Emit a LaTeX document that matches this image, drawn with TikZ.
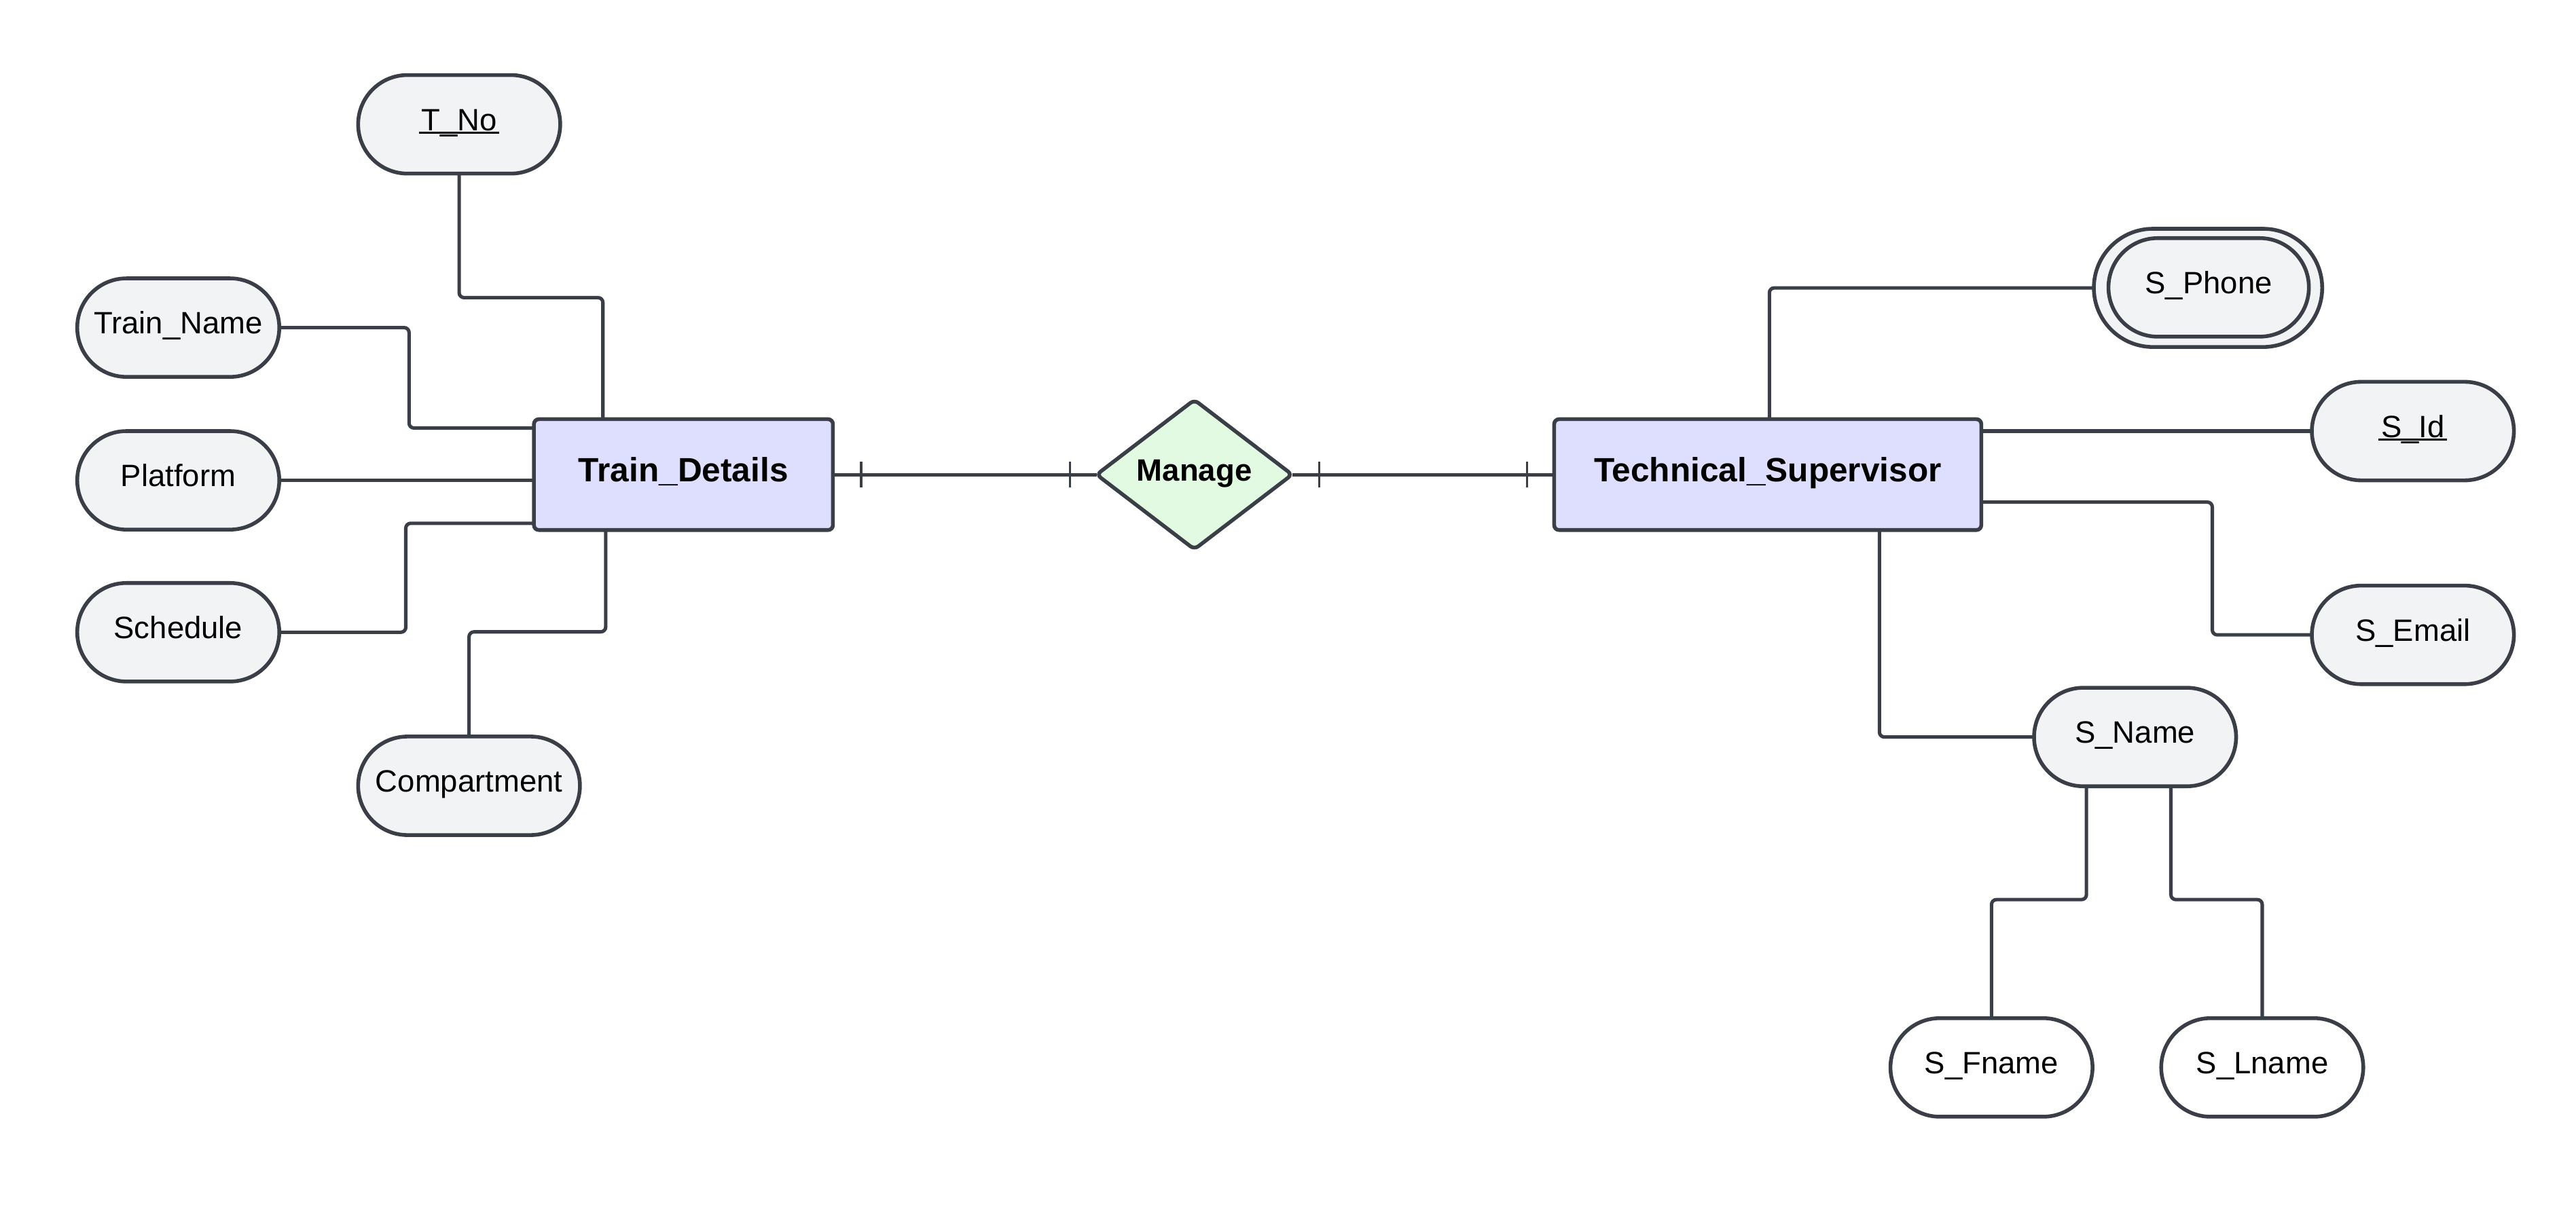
\documentclass[tikz,border=0pt]{standalone}
\usepackage{fontspec}
\setmainfont{Liberation Sans}
\usetikzlibrary{shapes.geometric,calc}
\definecolor{ln}{HTML}{3A3F47}
\definecolor{entfill}{HTML}{DEDEFF}
\definecolor{relfill}{HTML}{E2FAE2}
\definecolor{attrfill}{HTML}{F2F3F5}
\newcommand\keyul[1]{\setbox0\hbox{#1}\rlap{\kern-1.5pt\rule[-2.1pt]{\dimexpr\wd0+3pt\relax}{1.4pt}}\box0}
\tikzset{
  attr/.style={draw=ln, line width=2.3pt, fill=attrfill, rectangle, rounded corners=30pt,
    minimum width=123pt, minimum height=60pt, inner sep=0pt, outer sep=0pt,
    text height=13.5pt, text depth=6pt, font=\fontsize{18.8}{22}\selectfont},
  plainattr/.style={attr, fill=white},
  entity/.style={draw=ln, line width=2.3pt, fill=entfill, rectangle, rounded corners=3pt,
    inner sep=0pt, outer sep=0pt, text height=14.7pt, text depth=6pt,
    font=\bfseries\fontsize{20.5}{24}\selectfont},
  rel/.style={draw=ln, line width=2.3pt, fill=relfill, diamond, aspect=1.3, rounded corners=3pt,
    minimum width=119pt, minimum height=91pt, inner sep=0pt, outer sep=0pt,
    text height=13.5pt, text depth=6pt, font=\bfseries\fontsize{18.8}{22}\selectfont},
  conn/.style={draw=ln, line width=2.1pt, rounded corners=3pt},
  tickmark/.style={draw=ln, line width=1.6pt}
}
\begin{document}
\begin{tikzpicture}[x=1pt,y=-1pt]
\useasboundingbox (0,0) rectangle (1568,733.4);
% entities
\node[entity, minimum width=182pt, minimum height=67.5pt] (td) at (416,289) {Train\_Details};
\node[entity, minimum width=260pt, minimum height=67.5pt] (ts) at (1076,289) {Technical\_Supervisor};
\node[rel] (mg) at (727,289) {Manage};
% left attributes
\node[attr] (tno) at (279.5,75.7) {\keyul{T\_No}};
\node[attr] (tname) at (108.5,199.5) {Train\_Name};
\node[attr] (plat) at (108.5,292.5) {Platform};
\node[attr] (sched) at (108.5,385) {Schedule};
\node[attr, minimum width=135pt] (comp) at (285.5,478.5) {Compartment};
% right attributes
\node[attr, minimum width=139pt, minimum height=72pt, rounded corners=36pt] (phone) at (1344,175.3) {};
\node[attr, minimum width=122pt, minimum height=60pt] (phonein) at (1344.4,175) {S\_Phone};
\node[attr] (sid) at (1468.7,262.5) {\keyul{S\_Id}};
\node[attr] (semail) at (1468.7,386.6) {S\_Email};
\node[attr] (sname) at (1299.6,448.8) {S\_Name};
\node[plainattr] (fname) at (1212.2,650) {S\_Fname};
\node[plainattr] (lname) at (1377,650) {S\_Lname};
% left connectors
\draw[conn] (tno.south) |- ($(td.north west)+(42,-74)$) -- ($(td.north west)+(42,0)$);
\draw[conn] (tname.east) -| ($(td.north west)+(-76,5.4)$) -- ($(td.north west)+(0,5.4)$);
\draw[conn] (plat.east) -- (plat.east -| td.west);
\draw[conn] ($(td.south west)+(0,-4.1)$) -| ($(sched.east)+(77,0)$) -- (sched.east);
\draw[conn] ($(td.south west)+(43.7,0)$) -- ++(0,62) -| (comp.north);
% relationship
\draw[conn] (td.east) -- (mg.west);
\draw[conn] (mg.east) -- (ts.west);
\draw[tickmark] ($(td.east)+(17,-7.7)$) -- ++(0,15.4);
\draw[tickmark] ($(mg.west)+(-16.2,-7.7)$) -- ++(0,15.4);
\draw[tickmark] ($(mg.east)+(16.5,-7.7)$) -- ++(0,15.4);
\draw[tickmark] ($(ts.west)+(-16.5,-7.7)$) -- ++(0,15.4);
% right connectors
\draw[conn] ($(ts.north west)+(131,0)$) |- (phone.west);
\draw[conn] (sid.west -| ts.east) -- (sid.west);
\draw[conn] ($(ts.north east)+(0,50.5)$) -| ($(semail.west)+(-60.6,0)$) -- (semail.west);
\draw[conn] ($(ts.south west)+(198,0)$) |- (sname.west);
\draw[conn] ($(sname.south)+(-29.6,0)$) -- ++(0,69) -| (fname.north);
\draw[conn] ($(sname.south)+(21.8,0)$) -- ++(0,69) -| (lname.north);
\end{tikzpicture}
\end{document}
